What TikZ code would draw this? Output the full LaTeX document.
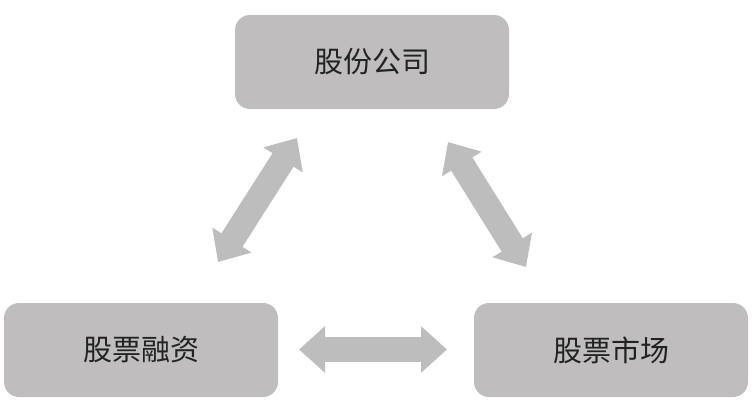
\documentclass[tikz,border=0pt]{standalone}
\usepackage{fontspec}
\newfontfamily\cjk{Noto Sans CJK SC}
\usetikzlibrary{arrows.meta}
\definecolor{boxgray}{HTML}{BFBDBE}
\definecolor{arrowgray}{HTML}{BDBDBD}
\definecolor{txt}{HTML}{222222}
\tikzset{
  entity/.style={draw=none, fill=boxgray, rounded corners=15pt, minimum width=274pt, minimum height=94pt, inner sep=0pt, font=\cjk\fontsize{29}{31}\selectfont, text=txt},
  link/.style={draw=arrowgray, line width=25pt, {Triangle[length=26pt,width=45pt]}-{Triangle[length=26pt,width=45pt]}}
}
\begin{document}
\begin{tikzpicture}[x=1pt,y=-1pt]
\useasboundingbox (0,0) rectangle (755,404);
\node[entity] (company) at (372,62) {股份公司};
\node[entity] (finance) at (141,350) {股票融资};
\node[entity] (market) at (611,350) {股票市场};
\coordinate (l1) at (218,262);
\coordinate (l2) at (297,138);
\coordinate (r1) at (448,142);
\coordinate (r2) at (526,267);
\coordinate (h1) at (299,349.5);
\coordinate (h2) at (447,349.5);
\draw[link] (l1) -- (l2);
\draw[link] (r1) -- (r2);
\draw[link] (h1) -- (h2);
\end{tikzpicture}
\end{document}
